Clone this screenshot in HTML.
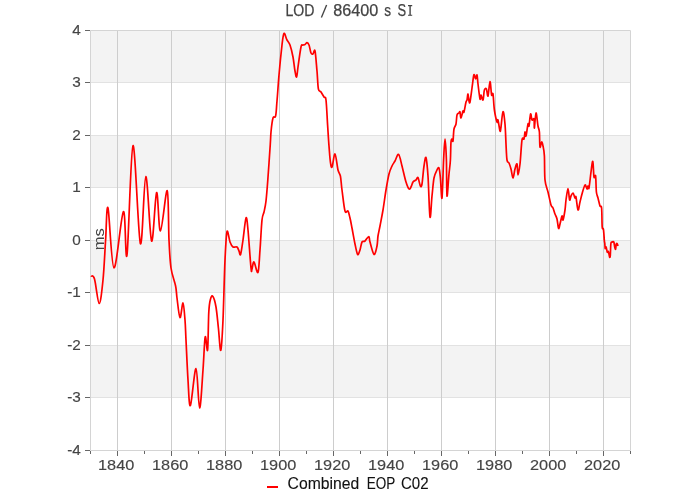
<!DOCTYPE html>
<html><head><meta charset="utf-8"><style>
html,body{margin:0;padding:0;background:#fff;width:700px;height:500px;overflow:hidden}
svg{display:block;will-change:transform}
.t{font-family:"Liberation Sans",sans-serif;font-size:15.3px;fill:#444}
.t2{font-family:"Liberation Sans",sans-serif;font-size:15.3px;fill:#444;stroke:#444;stroke-width:0.15px}
.f{font-family:"Liberation Sans",sans-serif}
.l{font-family:"Liberation Sans",sans-serif;font-size:14.5px;fill:#222}
</style></head><body>
<svg width="700" height="500" viewBox="0 0 700 500">
<rect x="90" y="30" width="540" height="52.5" fill="#f3f3f3"/>
<rect x="90" y="135" width="540" height="52.5" fill="#f3f3f3"/>
<rect x="90" y="240" width="540" height="52.5" fill="#f3f3f3"/>
<rect x="90" y="345" width="540" height="52.5" fill="#f3f3f3"/>
<path d="M90 397.5H630 M90 345.5H630 M90 292.5H630 M90 240.5H630 M90 187.5H630 M90 135.5H630 M90 82.5H630" stroke="#e2e2e2" stroke-width="1" fill="none"/>
<path d="M117.5 30V450 M171.5 30V450 M225.5 30V450 M279.5 30V450 M333.5 30V450 M387.5 30V450 M441.5 30V450 M495.5 30V450 M549.5 30V450 M603.5 30V450" stroke="#cdcdcd" stroke-width="1" fill="none"/>
<path d="M90.5 30.5H630.5M90.5 30.5V450.5H630.5V30.5" stroke="#d4d4d4" stroke-width="1" fill="none"/>
<path d="M85 450.5H90 M85 397.5H90 M85 345.5H90 M85 292.5H90 M85 240.5H90 M85 187.5H90 M85 135.5H90 M85 82.5H90 M85 30.5H90 M90.5 451V454 M117.5 451V456 M144.5 451V454 M171.5 451V456 M198.5 451V454 M225.5 451V456 M252.5 451V454 M279.5 451V456 M306.5 451V454 M333.5 451V456 M360.5 451V454 M387.5 451V456 M414.5 451V454 M441.5 451V456 M468.5 451V454 M495.5 451V456 M522.5 451V454 M549.5 451V456 M576.5 451V454 M603.5 451V456 M630.5 451V454" stroke="#666" stroke-width="1" fill="none"/>
<text x="80.8" y="454.9" text-anchor="end" class="t2">-4</text>
<text x="80.8" y="402.4" text-anchor="end" class="t2">-3</text>
<text x="80.8" y="349.9" text-anchor="end" class="t2">-2</text>
<text x="80.8" y="297.4" text-anchor="end" class="t2">-1</text>
<text x="80.8" y="244.9" text-anchor="end" class="t2">0</text>
<text x="80.8" y="192.4" text-anchor="end" class="t2">1</text>
<text x="80.8" y="139.9" text-anchor="end" class="t2">2</text>
<text x="80.8" y="87.4" text-anchor="end" class="t2">3</text>
<text x="80.8" y="34.9" text-anchor="end" class="t2">4</text>
<text x="116.2" y="470" text-anchor="middle" class="t2" textLength="36.3" lengthAdjust="spacingAndGlyphs">1840</text>
<text x="170.2" y="470" text-anchor="middle" class="t2" textLength="36.3" lengthAdjust="spacingAndGlyphs">1860</text>
<text x="224.2" y="470" text-anchor="middle" class="t2" textLength="36.3" lengthAdjust="spacingAndGlyphs">1880</text>
<text x="278.2" y="470" text-anchor="middle" class="t2" textLength="36.3" lengthAdjust="spacingAndGlyphs">1900</text>
<text x="332.2" y="470" text-anchor="middle" class="t2" textLength="36.3" lengthAdjust="spacingAndGlyphs">1920</text>
<text x="386.2" y="470" text-anchor="middle" class="t2" textLength="36.3" lengthAdjust="spacingAndGlyphs">1940</text>
<text x="440.2" y="470" text-anchor="middle" class="t2" textLength="36.3" lengthAdjust="spacingAndGlyphs">1960</text>
<text x="494.2" y="470" text-anchor="middle" class="t2" textLength="36.3" lengthAdjust="spacingAndGlyphs">1980</text>
<text x="548.2" y="470" text-anchor="middle" class="t2" textLength="36.3" lengthAdjust="spacingAndGlyphs">2000</text>
<text x="602.2" y="470" text-anchor="middle" class="t2" textLength="36.3" lengthAdjust="spacingAndGlyphs">2020</text>
<text x="285.50" y="16" style="font-size:16px;fill:#444;stroke:#444;stroke-width:0.25px" class="f" textLength="29.00" lengthAdjust="spacingAndGlyphs">LOD</text>
<text x="333.30" y="16" style="font-size:16px;fill:#444;stroke:#444;stroke-width:0.25px" class="f" textLength="45.00" lengthAdjust="spacingAndGlyphs">86400</text>
<text x="384.20" y="16" style="font-size:16px;fill:#444;stroke:#444;stroke-width:0.25px" class="f" textLength="6.80" lengthAdjust="spacingAndGlyphs">s</text>
<text x="397.60" y="16" style="font-size:16px;fill:#444;stroke:#444;stroke-width:0.25px" class="f" textLength="8.60" lengthAdjust="spacingAndGlyphs">S</text>
<text x="287.60" y="489" style="font-size:15.8px;fill:#111;stroke:#111;stroke-width:0.1px" class="f" textLength="71.70" lengthAdjust="spacingAndGlyphs">Combined</text>
<text x="366.80" y="489" style="font-size:15.8px;fill:#111;stroke:#111;stroke-width:0.1px" class="f" textLength="28.60" lengthAdjust="spacingAndGlyphs">EOP</text>
<text x="401.00" y="489" style="font-size:15.8px;fill:#111;stroke:#111;stroke-width:0.1px" class="f" textLength="27.60" lengthAdjust="spacingAndGlyphs">C02</text>
<path d="M326.6 5L321.4 17.6" stroke="#444" stroke-width="1.35"/><path d="M408 5.6H412.2M408 15.2H412.2" stroke="#444" stroke-width="1.1"/><path d="M410.1 5.6V15.2" stroke="#444" stroke-width="1.4"/>
<text transform="translate(104.2,250.3) rotate(-90)" class="f" style="font-size:14.3px;fill:#444" textLength="22" lengthAdjust="spacingAndGlyphs">ms</text>
<path d="M91 276C91.6 276.5 93.1 274.4 94.5 279C95.9 283.6 97.8 303.3 99.2 303.5C100.6 303.7 101.9 290.6 103 280C104.1 269.4 104.8 252 105.6 240C106.4 228 106.6 203.3 108 208C109.4 212.7 111.4 267.4 114 268C116.6 268.6 121.2 213.8 123.4 211.6C125.6 209.4 125.4 266 127 255C128.6 244 130.8 147.5 133 145.6C135.2 143.7 138.3 238.4 140.4 243.6C142.5 248.8 143.9 177 145.8 176.6C147.7 176.2 149.8 238.3 151.6 241C153.4 243.7 155.1 194.3 156.6 192.6C158.1 190.9 158.6 231.3 160.4 231C162.2 230.7 165.8 189.1 167.2 190.6C168.6 192.1 168.4 227.1 169 240C169.6 252.9 169.9 260.3 171 268C172.1 275.7 174.6 281 175.6 286C176.6 291 176.3 292.7 177 298C177.7 303.3 179 316.8 180 317.6C181 318.4 182.2 302.6 183 303C183.8 303.4 184.5 313.8 185 320C185.5 326.2 185.5 330 186 340C186.5 350 187.3 369.1 188 380C188.7 390.9 189.1 407.5 190.4 405.6C191.7 403.7 194.5 368.2 196 368.6C197.5 369 198.4 407.8 199.6 408C200.8 408.2 202.1 381.8 203 370C203.9 358.2 204.4 340.3 205.2 337C206 333.7 207 354.2 207.6 350C208.2 345.8 208.3 320.4 208.8 312C209.3 303.6 209.7 302.1 210.4 299.5C211.1 296.9 211.9 294.9 212.8 296.2C213.7 297.4 215.1 301.7 216 307C216.9 312.3 217.6 320.8 218.4 328C219.2 335.2 220 351.7 220.8 350.4C221.6 349.1 222.3 335.1 223 320C223.7 304.9 224.3 274.7 225 260C225.7 245.3 226.2 234.6 227 231.6C227.8 228.6 229 239.4 230 242C231 244.6 231.8 246.2 233 247C234.2 247.8 236 246.3 237 247C238 247.7 238.4 249.8 239 251C239.6 252.2 239.9 256.2 240.6 254.4C241.3 252.6 242.1 246.1 243 240C243.9 233.9 245.2 219.7 246 218C246.8 216.3 247.2 221.7 248 230C248.8 238.3 250.3 261.5 251 268C251.7 274.5 251.5 270 252 269C252.5 268 253 261.4 254 262C255 262.6 257 274.4 258 272.4C259 270.4 259.3 258.7 260 250C260.7 241.3 261.3 226.3 262 220C262.7 213.7 263.3 215.2 264 212C264.7 208.8 265.4 206.3 266 201C266.6 195.7 267.1 189.5 267.8 180C268.5 170.5 269.8 152 270.3 144C270.8 136 270.6 136.3 271 132C271.4 127.7 272.2 120.7 273 118C273.8 115.3 274.9 118.8 275.6 116C276.3 113.2 276.4 107.8 277 101C277.6 94.2 278.2 84.3 279 75C279.8 65.7 281.2 51.9 282 45C282.8 38.1 283.2 34.2 284 33.4C284.8 32.6 286 38.1 287 40C288 41.9 289 42.2 290 45C291 47.8 292.2 52.7 293 57C293.8 61.3 294.4 67.7 295 71C295.6 74.3 296.1 77.7 296.6 77C297.1 76.3 297.3 72 298 67C298.7 62 300.2 50.7 301 47C301.8 43.3 302.3 45.4 303 45C303.7 44.6 304.3 45 305 44.6C305.7 44.2 306.3 42.5 307 42.6C307.7 42.7 308.3 43.3 309 45C309.7 46.7 310.3 51.5 311 53C311.7 54.5 312.3 54.3 313 54C313.7 53.7 314.3 48.2 315 51C315.7 53.8 316.4 64.7 317 71C317.6 77.3 317.7 85.5 318.4 89C319.1 92.5 320.1 90.7 321 92C321.9 93.3 323.2 95.7 324 97C324.8 98.3 325.4 95.3 326 100C326.6 104.7 327.1 117.3 327.6 125C328.1 132.7 328.5 139.8 329 146C329.5 152.2 329.9 158.5 330.4 162C330.9 165.5 331.2 168.3 332 167C332.8 165.7 334 153.5 335 154C336 154.5 337.1 166.3 338 170C338.9 173.7 339.7 172.7 340.4 176C341.1 179.3 341.2 184.2 342 190C342.8 195.8 344 207.5 345 211C346 214.5 347.2 209.8 348 211C348.8 212.2 349.3 215.2 350 218C350.7 220.8 351.2 223.7 352 228C352.8 232.3 354.1 239.6 355 244C355.9 248.4 356.8 253.4 357.6 254.4C358.4 255.4 359.3 252.1 360 250C360.7 247.9 361.2 243.5 362 242C362.8 240.5 363.9 241.9 365 241C366.1 240.1 368 236.3 368.8 236.5C369.6 236.7 369.1 239 370 242C370.9 245 372.8 253.7 374 254.4C375.2 255.1 376.3 249.1 377 246C377.7 242.9 377.5 239.3 378 236C378.5 232.7 379.2 230.3 380 226C380.8 221.7 382 216 383 210C384 204 385 196 386 190C387 184 388 178 389 174C390 170 391 168.2 392 166C393 163.8 393.9 162.9 395 161C396.1 159.1 397.4 153.6 398.6 154.4C399.8 155.2 400.8 161.4 402 166C403.2 170.6 404.8 178.2 406 182C407.2 185.8 408.2 188.2 409 189C409.8 189.8 410.3 188.2 411 187C411.7 185.8 412.2 183.2 413 182C413.8 180.8 415.2 180.7 416 180C416.8 179.3 417.3 176.6 418 177.6C418.7 178.6 419.7 184.9 420.4 186C421.1 187.1 421.4 187.3 422 184C422.6 180.7 423.3 170.4 424 166C424.7 161.6 425.3 155.9 426 157.6C426.7 159.3 427.3 166.1 428 176C428.7 185.9 429.3 213.7 430 217C430.7 220.3 431.3 202.5 432 196C432.7 189.5 433.2 182.3 434 178C434.8 173.7 436.2 171.7 437 170C437.8 168.3 438.4 166.7 439 168C439.6 169.3 439.9 173 440.4 178C440.9 183 441.5 201 442 198C442.5 195 443.1 169.8 443.6 160C444.1 150.2 444.5 139 445 139C445.5 139 446.1 150.5 446.4 160C446.7 169.5 446.6 193.7 447 196C447.4 198.3 448.4 180 449 174C449.6 168 450.1 165.3 450.4 160C450.7 154.7 450.7 145.5 451 142C451.3 138.5 451.7 139.2 452 139C452.3 138.8 452.7 142.7 453 141C453.3 139.3 453.5 131.8 454 129C454.5 126.2 455.5 126.3 456 124C456.5 121.7 456.5 116.8 457 115C457.5 113.2 458.5 113.5 459 113C459.5 112.5 459.7 111.2 460 112C460.3 112.8 460.5 118.2 461 118C461.5 117.8 462.5 112 463 111C463.5 110 463.5 113.5 464 112C464.5 110.5 465.5 104 466 102C466.5 100 466.7 101.3 467 100C467.3 98.7 467.7 93.8 468 94C468.3 94.2 468.7 99.7 469 101C469.3 102.3 469.5 104.2 470 102C470.5 99.8 471.4 92.3 472 88C472.6 83.7 473.2 78.2 473.6 76C474 73.8 474.1 74.5 474.4 75C474.7 75.5 475.2 79 475.6 79C476 79 476.6 74.2 477 75C477.4 75.8 477.5 80 478 84C478.5 88 479.5 97.2 480 99C480.5 100.8 480.5 94.8 481 95C481.5 95.2 482.4 100.8 483 100C483.6 99.2 483.8 91.8 484.4 90C485 88.2 485.8 88 486.4 89C487 90 487.4 97.2 488 96C488.6 94.8 489.4 81.8 490 81.6C490.6 81.4 491.1 92.9 491.6 95C492.1 97.1 492.5 91.5 493 94C493.5 96.5 493.7 105.3 494.4 110C495.1 114.7 496.4 120.3 497 122C497.6 123.7 497.5 118.5 498 120C498.5 121.5 499.5 129.8 500 131C500.5 132.2 500.5 130.2 501 127C501.5 123.8 502.3 112.1 503 111.6C503.7 111.1 504.5 118.6 505 124C505.5 129.4 505.7 138 506 144C506.3 150 506.5 156.8 507 160C507.5 163.2 508.3 161.5 509 163C509.7 164.5 510.3 166.5 511 169C511.7 171.5 512.3 178 513 178C513.7 178 514.3 171.3 515 169C515.7 166.7 516.5 163 517 164C517.5 165 517.5 175 518 175C518.5 175 519.3 169.8 520 164C520.7 158.2 521.3 144.2 522 140C522.7 135.8 523.5 140.3 524 139C524.5 137.7 524.7 132.5 525 132C525.3 131.5 525.5 137.3 526 136C526.5 134.7 527.5 125.7 528 124C528.5 122.3 528.6 127.7 529 126C529.4 124.3 530.1 115 530.6 114C531.1 113 531.4 119.2 532 120C532.6 120.8 533.6 117.7 534 119C534.4 120.3 534.1 129 534.4 128C534.7 127 535.4 113.3 536 113C536.6 112.7 537.4 122.8 538 126C538.6 129.2 539.1 128.5 539.4 132C539.7 135.5 539.6 145.3 540 147C540.4 148.7 541.1 142.2 541.6 142C542.1 141.8 542.5 143.7 543 146C543.5 148.3 544.1 150.3 544.4 156C544.7 161.7 544.4 174 545 180C545.6 186 547 187.8 548 192C549 196.2 550.2 202.3 551 205C551.8 207.7 552.3 206.5 553 208C553.7 209.5 554.3 212.2 555 214C555.7 215.8 556.4 216.6 557 219C557.6 221.4 558.1 227.6 558.6 228.4C559.1 229.2 559.4 226.1 560 224C560.6 221.9 561.5 216.7 562 216C562.5 215.3 562.5 221 563 220C563.5 219 564.5 213.3 565 210C565.5 206.7 565.5 203.6 566 200C566.5 196.4 567.4 188.6 568 188.6C568.6 188.6 569.1 198.8 569.6 200C570.1 201.2 570.4 197.2 571 196C571.6 194.8 572.3 192.7 573 193C573.7 193.3 574.5 197.3 575 198C575.5 198.7 575.5 195 576 197C576.5 199 577.3 209.2 578 210C578.7 210.8 579.3 204.7 580 202C580.7 199.3 581.2 196.8 582 194C582.8 191.2 584.2 185.8 585 185C585.8 184.2 586.5 188.8 587 189C587.5 189.2 587.7 186.2 588 186C588.3 185.8 588.5 190.3 589 188C589.5 185.7 590.4 176.4 591 172C591.6 167.6 592.3 160.6 592.8 161.4C593.3 162.2 593.5 174.6 594 177C594.5 179.4 595.2 173.5 595.6 176C596 178.5 596 188.3 596.4 192C596.8 195.7 597.4 195.7 598 198C598.6 200.3 599.4 204.3 600 206C600.6 207.7 601.2 204.5 601.6 208C602 211.5 601.9 223.5 602.2 227C602.5 230.5 603 227 603.4 229.2C603.8 231.4 604.1 237.6 604.3 240C604.5 242.4 604.6 242 604.8 243.4C604.9 244.8 605 247.9 605.2 248.5C605.4 249.1 605.7 246.5 606 246.8C606.3 247.2 606.7 249.7 606.9 250.6C607.1 251.5 607.1 252.1 607.4 252.3C607.6 252.5 608 250.8 608.4 251.6C608.8 252.4 609.3 256.4 609.6 257C609.9 257.6 610.1 257.8 610.3 255.5C610.5 253.2 610.6 245.7 610.9 243.5C611.2 241.3 611.5 242.4 612 242.2C612.5 241.9 613.3 241.2 613.8 242C614.2 242.8 614.4 245.8 614.7 247C615 248.2 615.4 249.7 615.6 249.2C615.9 248.7 616 245.1 616.2 244.2C616.5 243.2 616.8 243.2 617.1 243.5C617.4 243.8 617.9 245.6 618 246" stroke="#ff0000" stroke-width="1.7" fill="none" stroke-linejoin="round" stroke-linecap="butt"/>
<path d="M267 487H278" stroke="#ff0000" stroke-width="2"/>
</svg></body></html>
